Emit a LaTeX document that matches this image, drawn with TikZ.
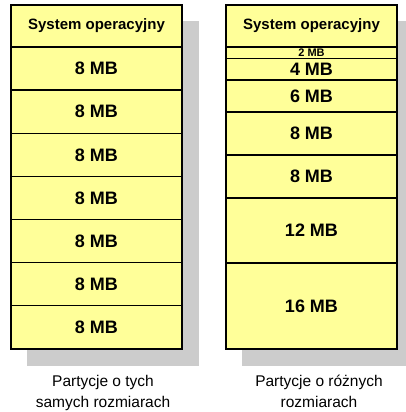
\documentclass[tikz,border=0pt]{standalone}
\usepackage{fontspec}
\setmainfont{Liberation Sans}
\definecolor{cellfill}{HTML}{FFFF99}
\definecolor{shadowgray}{HTML}{CCCCCC}
\begin{document}
\begin{tikzpicture}[x=1pt,y=-1pt,
  cell/.style={draw=black, line width=1.3pt, fill=cellfill, inner sep=0pt,
    minimum width=171pt, font=\bfseries\fontsize{18}{18}\selectfont},
  headcell/.style={cell, minimum height=42pt, font=\bfseries\fontsize{15}{15}\selectfont},
  caption/.style={align=center, inner sep=0pt, font=\fontsize{15.5}{21}\selectfont}]
\useasboundingbox (0,0) rectangle (406,412);
% shadows
\fill[shadowgray] (27,21) rectangle (199,366);
\fill[shadowgray] (242,21) rectangle (406,366);
% left column
\node[headcell] (lh) at (96.5,26) {System operacyjny};
\node[cell, minimum height=43.14pt] (l1) at (96.5,68.6) {8 MB};
\node[cell, minimum height=43.14pt] (l2) at (96.5,111.7) {8 MB};
\node[cell, minimum height=43.14pt] (l3) at (96.5,154.9) {8 MB};
\node[cell, minimum height=43.14pt] (l4) at (96.5,198) {8 MB};
\node[cell, minimum height=43.14pt] (l5) at (96.5,241.1) {8 MB};
\node[cell, minimum height=43.14pt] (l6) at (96.5,284.3) {8 MB};
\node[cell, minimum height=43.14pt] (l7) at (96.5,327.4) {8 MB};
% right column
\node[headcell] (rh) at (311.5,26) {System operacyjny};
\node[cell, minimum height=11.5pt, font=\bfseries\fontsize{11}{11}\selectfont] (r1) at (311.5,52.75) {2 MB};
\node[cell, minimum height=21.5pt] (r2) at (311.5,69.25) {4 MB};
\node[cell, minimum height=32pt] (r3) at (311.5,96) {6 MB};
\node[cell, minimum height=43pt] (r4) at (311.5,133.5) {8 MB};
\node[cell, minimum height=43pt] (r5) at (311.5,176.5) {8 MB};
\node[cell, minimum height=65pt] (r6) at (311.5,230.5) {12 MB};
\node[cell, minimum height=86pt] (r7) at (311.5,306) {16 MB};
% captions
\node[caption] (lc) at (103,392.3) {\strut Partycje o tych\\\strut samych rozmiarach};
\node[caption] (rc) at (319,392.3) {\strut Partycje o różnych\\\strut rozmiarach};
\end{tikzpicture}
\end{document}
